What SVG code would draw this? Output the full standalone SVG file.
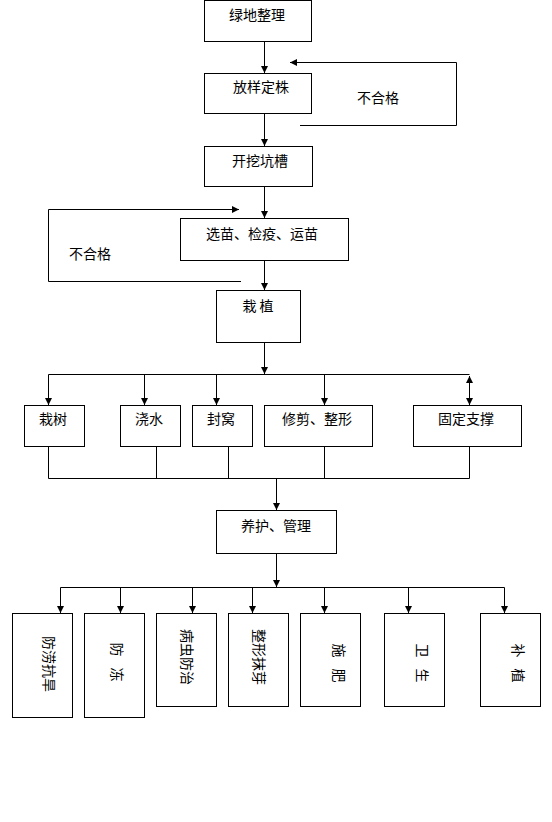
<svg xmlns="http://www.w3.org/2000/svg" width="552" height="822" viewBox="0 0 552 822">
<style>
rect{fill:#fff;stroke:#000;stroke-width:1}
text{font-family:"Noto Sans CJK SC","Noto Sans",sans-serif;font-size:14px;fill:#000;text-anchor:middle;dominant-baseline:central}
.c path{fill:none;stroke:#000;stroke-width:1}
.a{marker-end:url(#ah)}
</style>
<defs>
<marker id="ah" markerUnits="userSpaceOnUse" markerWidth="8" markerHeight="8" refX="7" refY="4" orient="auto-start-reverse">
<path d="M0,0.5 L7,4 L0,7.5 z" fill="#000"/>
</marker>
</defs>
<rect width="552" height="822" style="stroke:none"/>
<g class="c" id="connectors">
<path class="a" d="M264.5,42 V73"/>
<path class="a" d="M264.5,114 V146"/>
<path class="a" d="M300,125.5 H456.5 V62.5 H290"/>
<path class="a" d="M264.5,187 V218"/>
<path class="a" d="M241,281.5 H48.5 V209.5 H239"/>
<path class="a" d="M264.5,260 V290"/>
<path class="a" d="M264.5,343 V374"/>
<path d="M48.5,374.5 H469.5"/>
<path class="a" d="M48.5,374.5 V405"/>
<path class="a" d="M144.5,374.5 V405"/>
<path class="a" d="M216.5,374.5 V405"/>
<path class="a" d="M324.5,374.5 V405"/>
<path class="a" d="M469.5,376 V405" style="marker-start:url(#ah)"/>
<path d="M48.5,447 V478.5 H469.5 V447 M156.5,447 V478.5 M228.5,447 V478.5 M324.5,447 V478.5"/>
<path class="a" d="M276.5,478.5 V510"/>
<path class="a" d="M276.5,554 V587"/>
<path d="M60.5,587.5 H504.5"/>
<path class="a" d="M60.5,587.5 V613"/>
<path class="a" d="M120.5,587.5 V613"/>
<path class="a" d="M192.5,587.5 V613"/>
<path class="a" d="M252.5,587.5 V613"/>
<path class="a" d="M324.5,587.5 V613"/>
<path class="a" d="M408.5,587.5 V613"/>
<path class="a" d="M504.5,587.5 V613"/>
</g>
<text x="378" y="97">不合格</text>
<text x="90" y="253">不合格</text>
<g id="n1"><rect x="204.5" y="0.5" width="107" height="41"/><text x="257" y="14">绿地整理</text></g>
<g id="n2"><rect x="204.5" y="73.5" width="107" height="40"/><text x="261" y="86">放样定株</text></g>
<g id="n3"><rect x="204.5" y="146.5" width="108" height="40"/><text x="260" y="160">开挖坑槽</text></g>
<g id="n4"><rect x="180.5" y="218.5" width="168" height="42"/><text x="262" y="233">选苗、检疫、运苗</text></g>
<g id="n5"><rect x="216.5" y="290.5" width="84" height="52"/><text x="258" y="305" style="white-space:pre">栽 植</text></g>
<g id="c1"><rect x="24.5" y="405.5" width="60" height="41"/><text x="53" y="418">栽树</text></g>
<g id="c2"><rect x="120.5" y="405.5" width="60" height="41"/><text x="149" y="418">浇水</text></g>
<g id="c3"><rect x="192.5" y="405.5" width="60" height="41"/><text x="221" y="418">封窝</text></g>
<g id="c4"><rect x="264.5" y="405.5" width="108" height="41"/><text x="317" y="418">修剪、整形</text></g>
<g id="c5"><rect x="413.5" y="405.5" width="108" height="41"/><text x="466" y="418">固定支撑</text></g>
<g id="n6"><rect x="216.5" y="510.5" width="120" height="43"/><text x="276" y="525">养护、管理</text></g>
<g id="b1"><rect x="12.5" y="613.5" width="60" height="104"/><text transform="rotate(90 50 664)" x="50" y="664">防涝抗旱</text></g>
<g id="b2"><rect x="84.5" y="613.5" width="60" height="104"/><text transform="rotate(90 118 662)" x="118" y="662" style="white-space:pre;word-spacing:8px">防 冻</text></g>
<g id="b3"><rect x="156.5" y="613.5" width="60" height="93"/><text transform="rotate(90 188 657)" x="188" y="657">病虫防治</text></g>
<g id="b4"><rect x="228.5" y="613.5" width="60" height="93"/><text transform="rotate(90 260 657)" x="260" y="657">整形抹芽</text></g>
<g id="b5"><rect x="300.5" y="613.5" width="60" height="93"/><text transform="rotate(90 340 663)" x="340" y="663" style="white-space:pre;word-spacing:8px">施 肥</text></g>
<g id="b6"><rect x="384.5" y="613.5" width="60" height="93"/><text transform="rotate(90 423 663)" x="423" y="663" style="white-space:pre;word-spacing:8px">卫 生</text></g>
<g id="b7"><rect x="480.5" y="613.5" width="60" height="93"/><text transform="rotate(90 519 663)" x="519" y="663" style="white-space:pre;word-spacing:8px">补 植</text></g>
</svg>
